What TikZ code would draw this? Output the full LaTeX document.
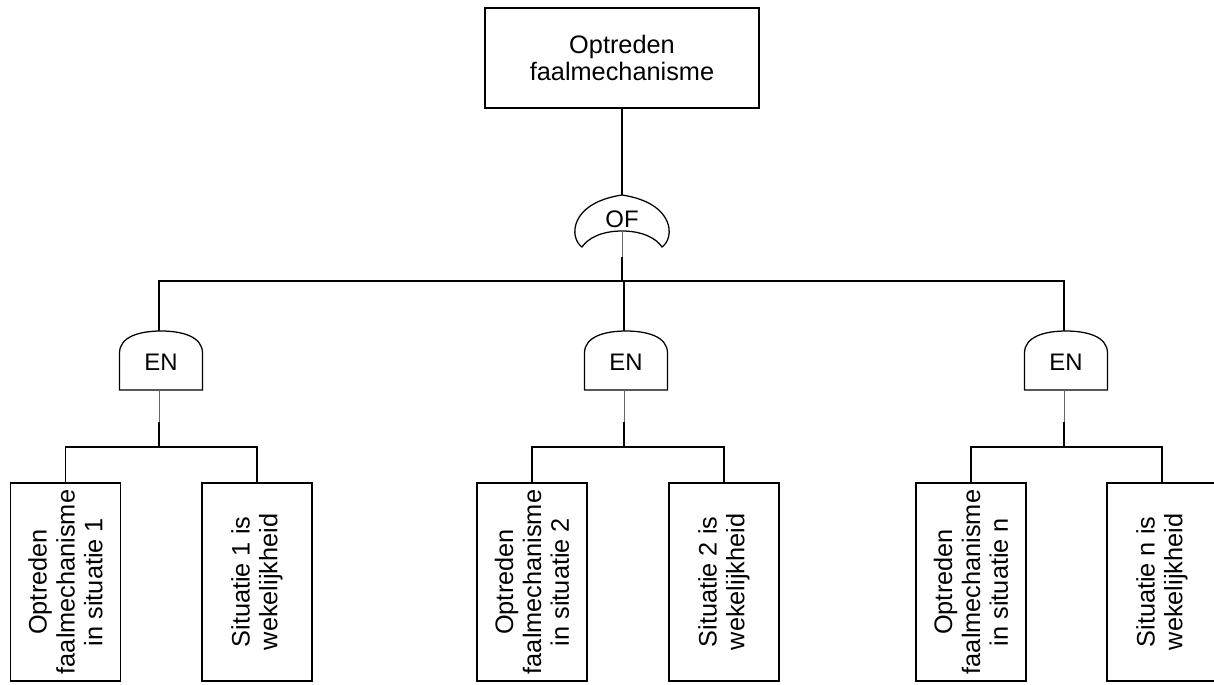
\documentclass[tikz,border=0pt]{standalone}
\usepackage{fontspec}
\setmainfont{Liberation Sans}
\usepackage{tikz}
\usetikzlibrary{positioning}

\begin{document}
\begin{tikzpicture}[x=0.025cm,y=-0.025cm,line width=0.9pt,
  topbox/.style={rectangle,draw=black,align=center,minimum width=6.85cm,minimum height=2.5cm,inner sep=0pt,font=\fontsize{18}{18.6}\selectfont},
  eventbox/.style={rectangle,draw=black,align=center,rotate=90,minimum width=4.95cm,minimum height=2.75cm,inner sep=0pt,font=\fontsize{18}{19.8}\selectfont},
  gatelabel/.style={font=\fontsize{17}{18}\selectfont,inner sep=0pt},
  gate/.style={draw=black,line width=0.9pt,fill=white},
  thinline/.style={draw=black!60,line width=0.7pt},
  stub/.style={draw=black,line width=1.8pt}]
\useasboundingbox (0,0) rectangle (1214,684);

% top event
\node at (622,58)[topbox](top){Optreden\\faalmechanisme};

% OF gate
\draw[gate,shift={(622,0)}] (-40,247) .. controls (-53,238) and (-53,203) .. (0,195)
  .. controls (53,203) and (53,238) .. (40,247)
  .. controls (34,238) and (20,231) .. (0,231)
  .. controls (-20,231) and (-34,238) .. (-40,247) -- cycle;
\node at (622,219)[gatelabel](of){OF};
\coordinate (oftop) at (622,195);
\coordinate (ofbot) at (622,231);
\coordinate (ofjoin) at (622,281);

% EN gates
\draw[gate,shift={(161,0)}] (-41.5,390) -- (-41.5,353) .. controls (-41.5,337) and (-22,331) .. (0,331) .. controls (22,331) and (41.5,337) .. (41.5,353) -- (41.5,390) -- cycle;
\draw[gate,shift={(626,0)}] (-41.5,390) -- (-41.5,353) .. controls (-41.5,337) and (-22,331) .. (0,331) .. controls (22,331) and (41.5,337) .. (41.5,353) -- (41.5,390) -- cycle;
\draw[gate,shift={(1066,0)}] (-41.5,390) -- (-41.5,353) .. controls (-41.5,337) and (-22,331) .. (0,331) .. controls (22,331) and (41.5,337) .. (41.5,353) -- (41.5,390) -- cycle;
\node at (161,362)[gatelabel](en1){EN};
\node at (626,362)[gatelabel](en2){EN};
\node at (1066,362)[gatelabel](en3){EN};
\coordinate (en1top) at (159,331);
\coordinate (en2top) at (624,331);
\coordinate (en3top) at (1064,331);
\coordinate (en1bot) at (159,390);
\coordinate (en2bot) at (624,390);
\coordinate (en3bot) at (1064,390);
\coordinate (j1) at (159,447);
\coordinate (j2) at (624,447);
\coordinate (j3) at (1064,447);

% basic events
\node at (65.5,582)[eventbox](b11){Optreden\\faalmechanisme\\in situatie 1};
\node at (257,582)[eventbox](b12){Situatie 1 is\\wekelijkheid};
\node at (532,582)[eventbox](b21){Optreden\\faalmechanisme\\in situatie 2};
\node at (724,582)[eventbox](b22){Situatie 2 is\\wekelijkheid};
\node at (971,582)[eventbox](b31){Optreden\\faalmechanisme\\in situatie n};
\node at (1162,582)[eventbox](b32){Situatie n is\\wekelijkheid};

% connectors
\draw (top.south) -- (oftop);
\draw[thinline] (ofbot) -- (ofjoin);
\draw[stub] (ofjoin) -- ++(0,-24);
\draw (en1top) |- (ofjoin) -| (en3top);
\draw (en2top) -- (en2top |- ofjoin);

\draw[thinline] (en1bot) -- (j1);
\draw[stub] (j1) -- ++(0,-25);
\draw (b11.east) |- (j1) -| (b12.east);
\draw[thinline] (en2bot) -- (j2);
\draw[stub] (j2) -- ++(0,-25);
\draw (b21.east) |- (j2) -| (b22.east);
\draw[thinline] (en3bot) -- (j3);
\draw[stub] (j3) -- ++(0,-25);
\draw (b31.east) |- (j3) -| (b32.east);
\end{tikzpicture}
\end{document}
